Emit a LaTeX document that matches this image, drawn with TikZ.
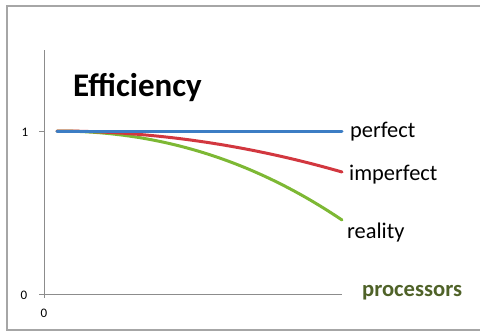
\documentclass[tikz,border=0pt]{standalone}
\usepackage{fontspec}
\setmainfont{Carlito}
\definecolor{perfblue}{HTML}{3C7DC4}
\definecolor{imred}{HTML}{D2373F}
\definecolor{realgreen}{HTML}{7DB834}
\definecolor{olive}{HTML}{4F6228}
\definecolor{framegray}{HTML}{A6A6A6}
\definecolor{axisgray}{HTML}{8C8C8C}
\tikzset{
  curve/.style={line width=3pt, line cap=round},
  lbl/.style={inner sep=0pt, anchor=west, font=\fontsize{22.4}{24}\selectfont},
  tick/.style={inner sep=0pt, font=\fontsize{13}{14}\selectfont}
}
\begin{document}
\begin{tikzpicture}[x=1pt,y=-1pt]
\useasboundingbox (0,0) rectangle (480,333);
% frame (open on the right)
\draw[framegray, line width=1.5pt] (482,6) -- (7,6) -- (7,330) -- (482,330);
% axes
\coordinate (ytop) at (44,50);
\coordinate (ybot) at (44,298);
\coordinate (xl) at (39,294);
\coordinate (xr) at (342,294);
\coordinate (t1a) at (39,131);
\coordinate (t1b) at (44,131);
\draw[axisgray, line width=1pt] (ytop) -- (ybot);
\draw[axisgray, line width=1pt] (xl) -- (xr);
\draw[axisgray, line width=1pt] (t1a) -- (t1b);
% tick labels
\node[tick] (one) at (25,132) {1};
\node[tick] (zeroy) at (24,295) {0};
\node[tick] (zerox) at (44,313) {0};
% title
\node[inner sep=0pt, anchor=base west, font=\fontsize{33}{36}\bfseries\selectfont] (title) at (73,96) {Efficiency};
% curves
\coordinate (s) at (57,131);
\coordinate (pe) at (342,131);
\coordinate (ie) at (342,172);
\coordinate (re) at (342,220);
\draw[curve, realgreen] (s) .. controls (152,131) and (247,156) .. (re);
\draw[curve, imred] (s) .. controls (152,131) and (247,144.7) .. (ie);
\draw[curve, perfblue] (s) -- (pe);
% labels
\node[lbl] (perfect) at (350,132) {perfect};
\node[lbl] (imperfect) at (349,175) {imperfect};
\node[lbl] (reality) at (347,233) {reality};
\node[lbl, font=\fontsize{22.6}{24}\bfseries\selectfont, text=olive] (proc) at (362,293) {processors};
\end{tikzpicture}
\end{document}
